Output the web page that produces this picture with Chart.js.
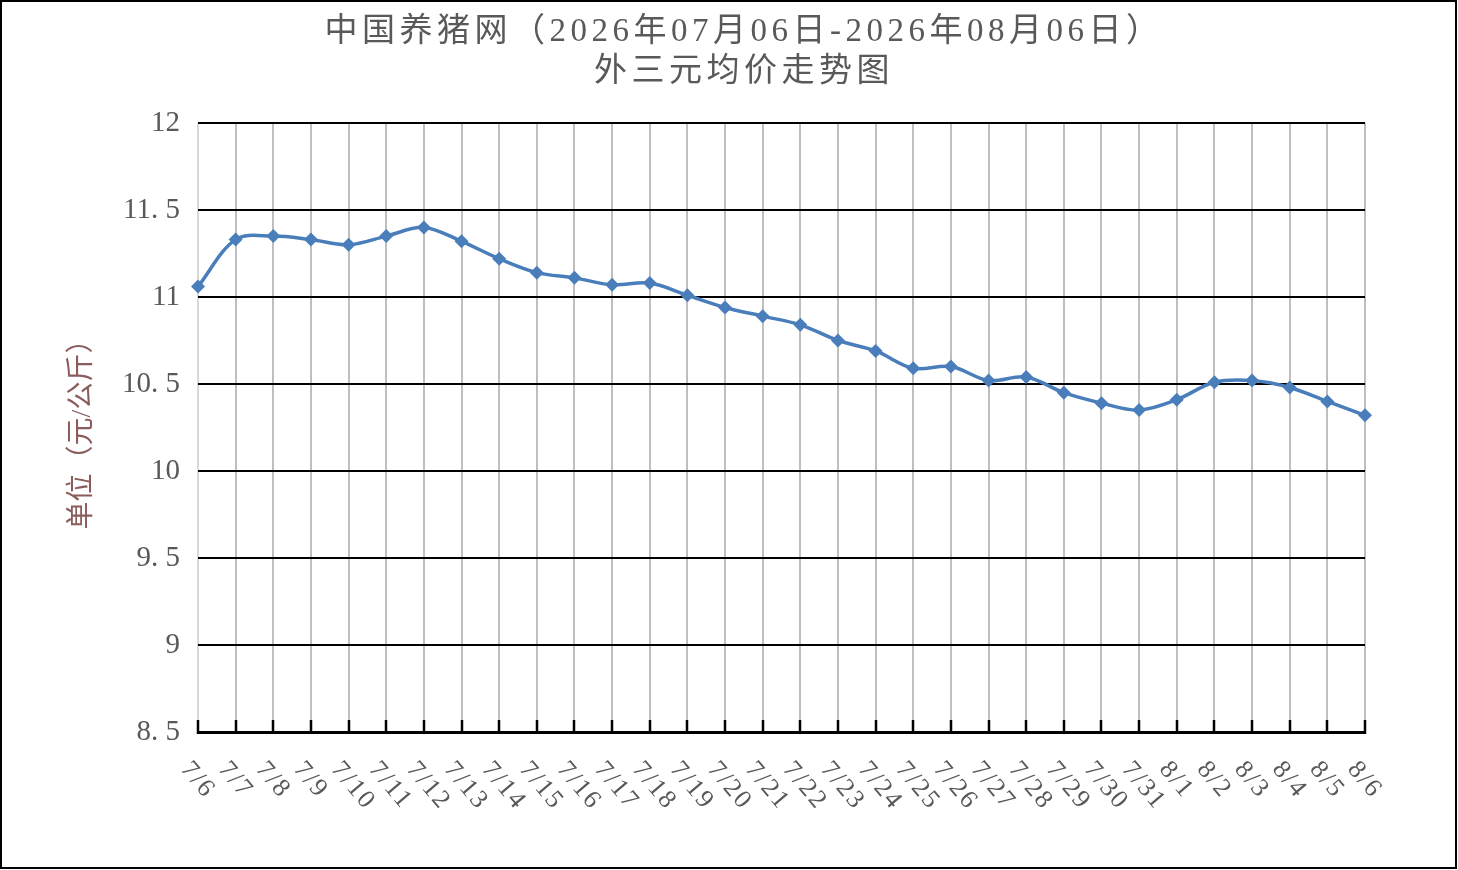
<!DOCTYPE html>
<html>
<head>
<meta charset="utf-8">
<title>外三元均价走势图</title>
<script src="https://cdn.jsdelivr.net/npm/chart.js@4.4.0/dist/chart.umd.min.js"></script>
<style>
  html, body { margin: 0; padding: 0; background: #fff; }
  canvas { display: block; }
</style>
</head>
<body>
<canvas id="chart" width="1458" height="870"></canvas>
<script>
'use strict';

var dates = ['7/6', '7/7', '7/8', '7/9', '7/10', '7/11', '7/12', '7/13', '7/14', '7/15', '7/16',
  '7/17', '7/18', '7/19', '7/20', '7/21', '7/22', '7/23', '7/24', '7/25', '7/26', '7/27',
  '7/28', '7/29', '7/30', '7/31', '8/1', '8/2', '8/3', '8/4', '8/5', '8/6'];
var prices = [11.06, 11.33, 11.35, 11.33, 11.30, 11.35, 11.40, 11.32, 11.22, 11.14, 11.11,
  11.07, 11.08, 11.01, 10.94, 10.89, 10.84, 10.75, 10.69, 10.59, 10.60, 10.52,
  10.54, 10.45, 10.39, 10.35, 10.41, 10.51, 10.52, 10.48, 10.40, 10.32];
var titleLines = ['中国养猪网（2026年07月06日-2026年08月06日）', '外三元均价走势图'];
var yTitle = '单位（元/公斤）';

var textColor = '#595959';
var serif = '"Liberation Serif", "Noto Sans CJK SC", serif';

// border, title and the slanted date labels are drawn by hand
var extras = {
  id: 'extras',
  afterDraw: function(chart) {
    var ctx = chart.ctx;
    var xScale = chart.scales.x;
    ctx.save();
    ctx.fillStyle = textColor;
    ctx.textAlign = 'center';
    ctx.textBaseline = 'middle';
    ctx.font = '33px ' + serif;
    ctx.letterSpacing = '4.5px';
    ctx.fillText(titleLines[0], 744, 32);
    ctx.fillText(titleLines[1], 744, 72);

    ctx.font = '26px ' + serif;
    ctx.letterSpacing = '2px';
    ctx.textAlign = 'left';
    for (var i = 0; i < dates.length; i++) {
      var x = xScale.getPixelForTick(i);
      ctx.save();
      ctx.translate(x - 13, 765);
      ctx.rotate(50 * Math.PI / 180);
      ctx.fillText(dates[i], 0, 0);
      ctx.restore();
    }
    ctx.letterSpacing = '0px';

    ctx.strokeStyle = '#000';
    ctx.lineWidth = 2;
    ctx.strokeRect(1, 1, 1455, 867);
    ctx.restore();
  }
};

var ctx = document.getElementById('chart').getContext('2d');
new Chart(ctx, {
  type: 'line',
  data: {
    labels: dates,
    datasets: [{
      data: prices,
      borderColor: '#4a7ebb',
      backgroundColor: '#4a7ebb',
      borderWidth: 3.5,
      tension: 0.35,
      pointStyle: 'rectRot',
      pointRadius: 7,
      pointBorderWidth: 0
    }]
  },
  options: {
    responsive: false,
    devicePixelRatio: 1,
    animation: false,
    layout: { padding: { top: 123, right: 93, bottom: 0, left: 0 } },
    plugins: {
      legend: { display: false },
      tooltip: { enabled: false }
    },
    scales: {
      x: {
        offset: false,
        grid: {
          offset: false,
          color: function(c) { return c.index === 0 ? '#d9d9d9' : '#bfbfbf'; },
          lineWidth: 2,
          tickLength: -12,
          tickColor: '#000',
          tickWidth: 2.5
        },
        border: { color: '#000', width: 3 },
        ticks: { display: false },
        afterFit: function(s) { s.height = 138; }
      },
      y: {
        min: 8.5,
        max: 12,
        grid: { color: '#000', lineWidth: 2, drawTicks: false },
        border: { display: false },
        ticks: {
          stepSize: 0.5,
          padding: 18,
          color: textColor,
          font: { family: serif, size: 29 },
          callback: function(v) { return String(v).replace('.', '. '); }
        },
        title: {
          display: true,
          text: yTitle,
          color: '#8a5c5c',
          font: { family: serif, size: 28 },
          padding: { top: 66, bottom: 0 }
        },
        afterFit: function(s) { s.width = 198; }
      }
    }
  },
  plugins: [extras]
});
</script>
</body>
</html>
